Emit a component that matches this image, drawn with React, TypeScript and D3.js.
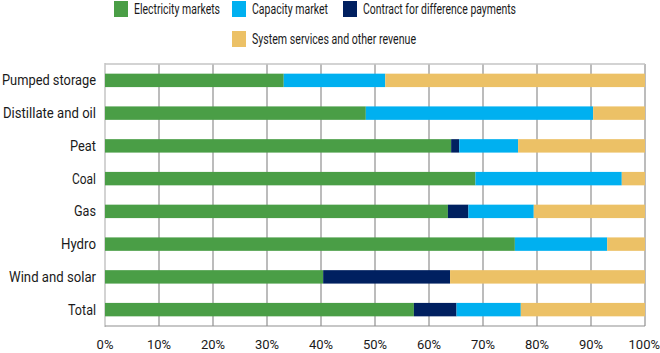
import React, { useEffect, useRef } from 'react';
import * as d3 from 'd3';

const categories = ['Pumped storage', 'Distillate and oil', 'Peat', 'Coal', 'Gas', 'Hydro', 'Wind and solar', 'Total'];
const seriesNames = ['Electricity markets', 'Capacity market', 'Contract for difference payments', 'System services and other revenue'];
const electricity = [33.1, 48.3, 64.1, 68.6, 63.5, 75.9, 40.4, 57.2];
const capacity = [18.8, 42.1, 10.9, 27.1, 12.1, 17.1, 0, 11.9];
const cfd = [0, 0, 1.5, 0, 3.8, 0, 23.5, 7.9];
const system = [48.1, 9.6, 23.5, 4.3, 20.6, 7.0, 36.1, 23.0];
const ticks = [0, 10, 20, 30, 40, 50, 60, 70, 80, 90, 100];
const colors = ['#4a9e46', '#00b0f0', '#002060', '#ecc166'];

const W = 660;
const H = 353;
const FONT = 'Roboto, "DejaVu Sans", sans-serif';

// text widths in the original (condensed face), used to squeeze Roboto
const catWidth = [94, 93, 26, 24, 22, 35, 87, 28];
const legWidth = [86, 76, 153, 164];

const App = () => {
  const ref = useRef(null);

  useEffect(() => {
    const svg = d3.select(ref.current);
    svg.selectAll('*').remove();

    const x = d3.scaleLinear().domain([0, 100]).range([105, 645]);
    const y = d3.scaleBand().domain(categories).range([64, 326]).paddingInner(0.59).paddingOuter(0.295);

    // stacking order: electricity, cfd, capacity, system
    const rows = categories.map((c, i) => ({
      cat: c,
      e: electricity[i],
      cfd: cfd[i],
      cap: capacity[i],
      sys: system[i],
    }));
    const keys = ['e', 'cfd', 'cap', 'sys'];
    const keyColor = { e: colors[0], cap: colors[1], cfd: colors[2], sys: colors[3] };
    const stacked = d3.stack().keys(keys)(rows);

    // grid
    const g = svg.append('g');
    g.selectAll('line.grid')
      .data(ticks.slice(1))
      .enter()
      .append('line')
      .attr('x1', (d) => x(d))
      .attr('x2', (d) => x(d))
      .attr('y1', 64)
      .attr('y2', 326)
      .attr('stroke', '#8f8f8f')
      .attr('stroke-width', 1.2);

    g.append('line')
      .attr('x1', x(0)).attr('x2', x(100))
      .attr('y1', 64).attr('y2', 64)
      .attr('stroke', '#c4c4c4').attr('stroke-width', 1.5);
    g.append('line')
      .attr('x1', x(0)).attr('x2', x(0))
      .attr('y1', 63).attr('y2', 327)
      .attr('stroke', '#c4c4c4').attr('stroke-width', 1.5);
    g.append('line')
      .attr('x1', x(0)).attr('x2', x(100))
      .attr('y1', 326).attr('y2', 326)
      .attr('stroke', '#8f8f8f').attr('stroke-width', 1.2);

    // bars
    stacked.forEach((layer) => {
      svg.append('g')
        .selectAll('rect')
        .data(layer)
        .enter()
        .append('rect')
        .attr('x', (d) => x(d[0]))
        .attr('width', (d) => Math.max(0, x(d[1]) - x(d[0])))
        .attr('y', (d) => y(d.data.cat))
        .attr('height', y.bandwidth())
        .attr('fill', keyColor[layer.key]);
    });

    // category labels
    svg.append('g')
      .selectAll('text')
      .data(categories)
      .enter()
      .append('text')
      .attr('x', 96)
      .attr('y', (d) => y(d) + y.bandwidth() / 2)
      .attr('dy', '0.36em')
      .attr('text-anchor', 'end')
      .attr('textLength', (d, i) => catWidth[i])
      .attr('lengthAdjust', 'spacingAndGlyphs')
      .style('font-family', FONT)
      .style('font-size', '14px')
      .style('fill', '#1a1a1a')
      .text((d) => d);

    // tick labels
    svg.append('g')
      .selectAll('text')
      .data(ticks)
      .enter()
      .append('text')
      .attr('x', (d) => (d === 100 ? 660 : x(d)))
      .attr('y', 344)
      .attr('dy', '0.36em')
      .attr('text-anchor', (d) => (d === 100 ? 'end' : 'middle'))
      .style('font-family', FONT)
      .style('font-size', '13px')
      .style('fill', '#1a1a1a')
      .text((d) => d + '%');

    // legend
    const legendPos = [
      { x: 114, y: 9 },
      { x: 232, y: 9 },
      { x: 343, y: 9 },
      { x: 232, y: 39 },
    ];
    const leg = svg.append('g')
      .selectAll('g')
      .data(seriesNames)
      .enter()
      .append('g')
      .attr('transform', (d, i) => `translate(${legendPos[i].x},${legendPos[i].y})`);
    leg.append('rect')
      .attr('x', 0).attr('y', -8)
      .attr('width', 14).attr('height', 16)
      .attr('fill', (d, i) => colors[i]);
    leg.append('text')
      .attr('x', 20)
      .attr('y', 0)
      .attr('dy', '0.36em')
      .attr('textLength', (d, i) => legWidth[i])
      .attr('lengthAdjust', 'spacingAndGlyphs')
      .style('font-family', FONT)
      .style('font-size', '14px')
      .style('fill', '#1a1a1a')
      .text((d) => d);
  }, []);

  return <svg ref={ref} width={W} height={H} style={{ display: 'block', position: 'absolute', left: 0, top: 0, background: '#fff' }} />;
};

export default App;
